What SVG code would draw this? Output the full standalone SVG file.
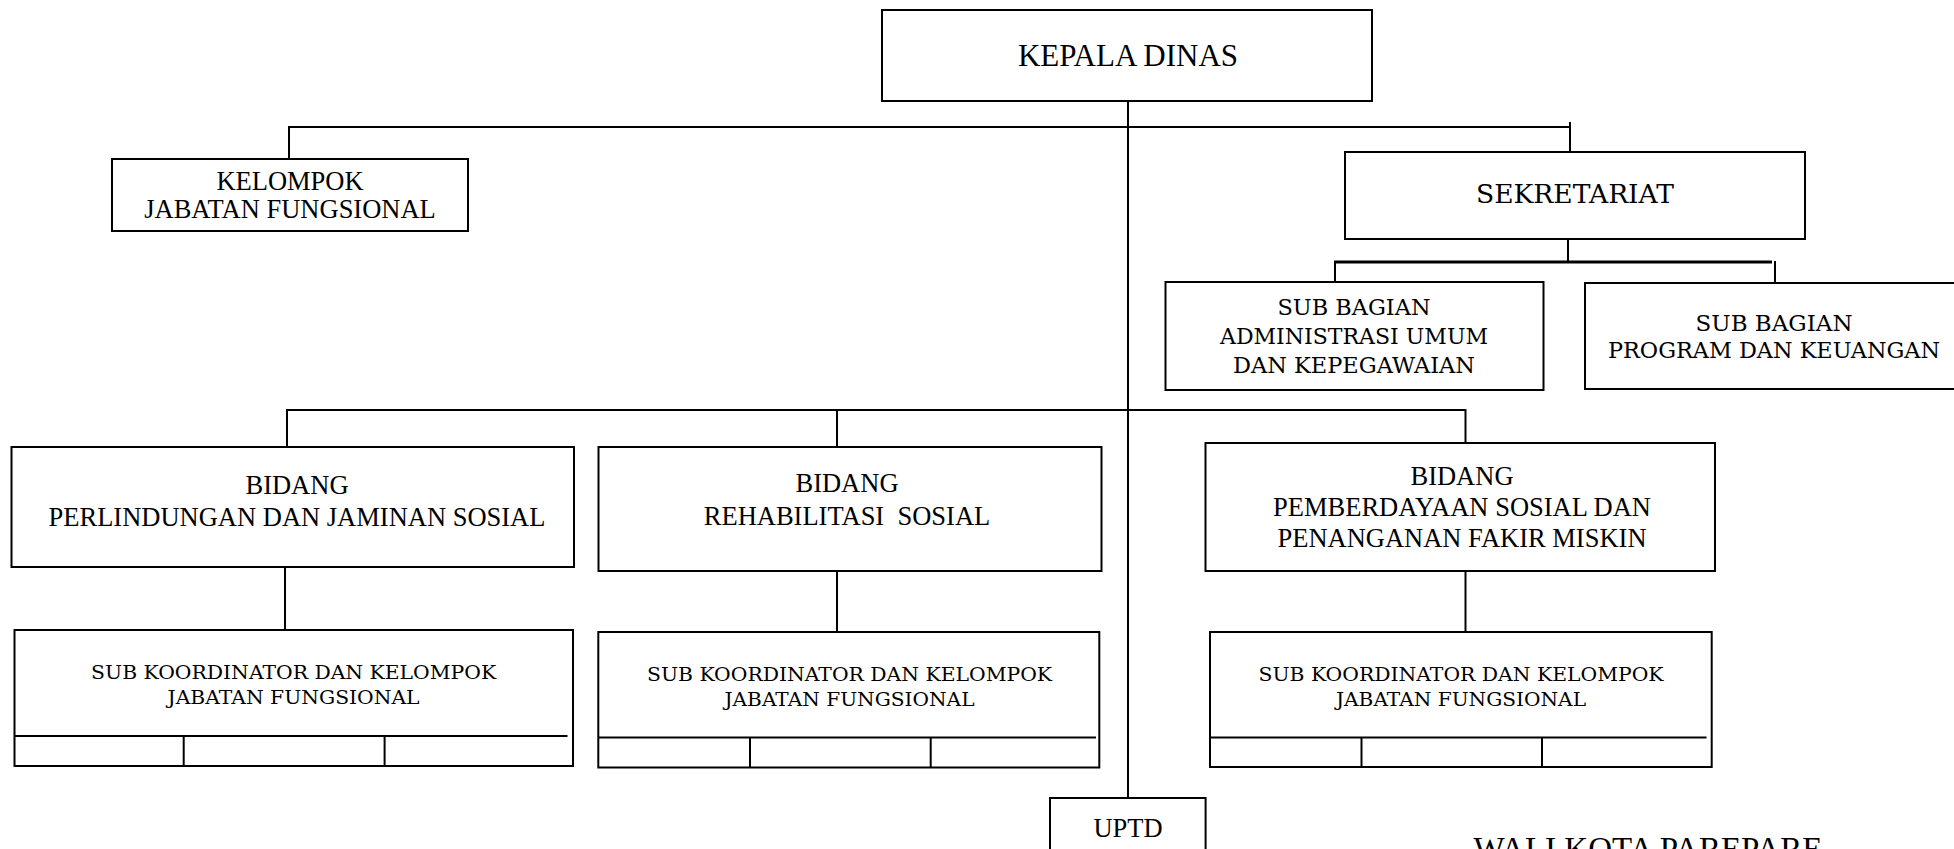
<svg xmlns="http://www.w3.org/2000/svg" width="1954" height="849" viewBox="0 0 1954 849">
<style>
.box{fill:#fff;stroke:#000;stroke-width:2}
.ln{stroke:#000;stroke-width:2;fill:none}
.t{font-family:"Liberation Serif","Times New Roman",serif;fill:#000;text-anchor:middle}
.c{font-family:"DejaVu Serif","Liberation Serif",serif;fill:#000;text-anchor:middle}
</style>
<rect width="1954" height="849" fill="#fff"/>
<g id="connectors">
<line class="ln" x1="1128" y1="101" x2="1128" y2="798"/>
<line class="ln" x1="288" y1="127" x2="1570" y2="127"/>
<line class="ln" x1="289" y1="126" x2="289" y2="159"/>
<line class="ln" x1="1570" y1="122" x2="1570" y2="152"/>
<line class="ln" x1="1568" y1="239" x2="1568" y2="263"/>
<line class="ln" x1="1334" y1="262" x2="1772" y2="262" style="stroke-width:3"/>
<line class="ln" x1="1335" y1="262" x2="1335" y2="282"/>
<line class="ln" x1="1775" y1="261" x2="1775" y2="283"/>
<line class="ln" x1="286" y1="410" x2="1466" y2="410"/>
<line class="ln" x1="287" y1="409" x2="287" y2="447"/>
<line class="ln" x1="837" y1="410" x2="837" y2="447"/>
<line class="ln" x1="1465.5" y1="409" x2="1465.5" y2="443"/>
<line class="ln" x1="285" y1="567" x2="285" y2="630"/>
<line class="ln" x1="837" y1="571" x2="837" y2="632"/>
<line class="ln" x1="1465.5" y1="571" x2="1465.5" y2="632"/>
</g>
<g id="kepala-dinas">
<rect class="box" x="882" y="10" width="490" height="91"/>
<text class="t" x="1128" y="66" font-size="31">KEPALA DINAS</text>
</g>
<g id="kelompok-jf">
<rect class="box" x="112" y="159" width="356" height="72"/>
<text class="t" x="290" y="190" font-size="26.5">KELOMPOK</text>
<text class="t" x="290" y="218" font-size="26.5">JABATAN FUNGSIONAL</text>
</g>
<g id="sekretariat">
<rect class="box" x="1345" y="152" width="460" height="87"/>
<text class="c" x="1575" y="203" font-size="26" textLength="198" lengthAdjust="spacingAndGlyphs">SEKRETARIAT</text>
</g>
<g id="sub-bagian-umum">
<rect class="box" x="1165.5" y="282" width="378" height="108"/>
<text class="c" x="1354" y="315" font-size="23" textLength="153" lengthAdjust="spacingAndGlyphs">SUB BAGIAN</text>
<text class="c" x="1354" y="344" font-size="23" textLength="268" lengthAdjust="spacingAndGlyphs">ADMINISTRASI UMUM</text>
<text class="c" x="1354" y="373" font-size="23" textLength="242" lengthAdjust="spacingAndGlyphs">DAN KEPEGAWAIAN</text>
</g>
<g id="sub-bagian-program">
<rect class="box" x="1585" y="283" width="380" height="106"/>
<text class="c" x="1774" y="331" font-size="23" textLength="157" lengthAdjust="spacingAndGlyphs">SUB BAGIAN</text>
<text class="c" x="1774" y="358" font-size="23" textLength="332" lengthAdjust="spacingAndGlyphs">PROGRAM DAN KEUANGAN</text>
</g>
<g id="bidang-perlindungan">
<rect class="box" x="11.5" y="447" width="562.5" height="120"/>
<text class="t" x="297" y="494" font-size="26.5">BIDANG</text>
<text class="t" x="297" y="526" font-size="26.5">PERLINDUNGAN DAN JAMINAN SOSIAL</text>
</g>
<g id="bidang-rehabilitasi">
<rect class="box" x="598.5" y="447" width="503" height="124"/>
<text class="t" x="847" y="492" font-size="26.5">BIDANG</text>
<text class="t" x="847" y="525" font-size="26.5">REHABILITASI &#160;SOSIAL</text>
</g>
<g id="bidang-pemberdayaan">
<rect class="box" x="1205.5" y="443" width="509.5" height="128"/>
<text class="t" x="1462" y="485" font-size="26.5">BIDANG</text>
<text class="t" x="1462" y="516" font-size="26.5">PEMBERDAYAAN SOSIAL DAN</text>
<text class="t" x="1462" y="547" font-size="26.5">PENANGANAN FAKIR MISKIN</text>
</g>
<g id="subkoor-1">
<rect class="box" x="14.5" y="630" width="558.5" height="136"/>
<line class="ln" x1="14.5" y1="736" x2="567.5" y2="736"/>
<line class="ln" x1="183.7" y1="736" x2="183.7" y2="766"/>
<line class="ln" x1="384.6" y1="736" x2="384.6" y2="766"/>
<text class="c" x="293.6" y="679" font-size="19" textLength="405" lengthAdjust="spacingAndGlyphs">SUB KOORDINATOR DAN KELOMPOK</text>
<text class="c" x="293.6" y="704" font-size="19" textLength="252" lengthAdjust="spacingAndGlyphs">JABATAN FUNGSIONAL</text>
</g>
<g id="subkoor-2">
<rect class="box" x="598.3" y="632" width="501" height="135.5"/>
<line class="ln" x1="598.3" y1="737.5" x2="1096" y2="737.5"/>
<line class="ln" x1="750" y1="737.5" x2="750" y2="767.5"/>
<line class="ln" x1="930.7" y1="737.5" x2="930.7" y2="767.5"/>
<text class="c" x="849.5" y="681" font-size="19" textLength="405" lengthAdjust="spacingAndGlyphs">SUB KOORDINATOR DAN KELOMPOK</text>
<text class="c" x="849.5" y="706" font-size="19" textLength="250" lengthAdjust="spacingAndGlyphs">JABATAN FUNGSIONAL</text>
</g>
<g id="subkoor-3">
<rect class="box" x="1210" y="632" width="501.7" height="135"/>
<line class="ln" x1="1210" y1="737.5" x2="1706.5" y2="737.5"/>
<line class="ln" x1="1361.5" y1="737.5" x2="1361.5" y2="767"/>
<line class="ln" x1="1542" y1="737.5" x2="1542" y2="767"/>
<text class="c" x="1461" y="681" font-size="19" textLength="405" lengthAdjust="spacingAndGlyphs">SUB KOORDINATOR DAN KELOMPOK</text>
<text class="c" x="1461" y="706" font-size="19" textLength="250" lengthAdjust="spacingAndGlyphs">JABATAN FUNGSIONAL</text>
</g>
<g id="uptd">
<rect class="box" x="1050" y="798" width="155.6" height="70"/>
<text class="t" x="1128" y="837" font-size="26.5">UPTD</text>
</g>
<g id="walikota">
<text class="t" x="1648" y="860" font-size="33">WALI KOTA PAREPARE</text>
</g>
</svg>
